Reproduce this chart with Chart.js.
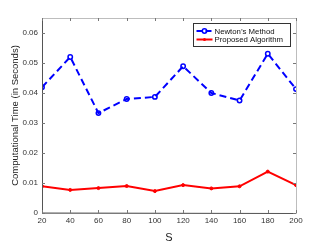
<!DOCTYPE html>
<html>
<head>
<meta charset="utf-8">
<script src="https://cdn.jsdelivr.net/npm/chart.js@4"></script>
<style>
    html, body { margin: 0; padding: 0; background: #fff; }
    #wrap { width: 327px; height: 245px; }
</style>
</head>
<body>
<div id="wrap"><canvas id="timeChart" width="327" height="245"></canvas></div>
<script>
const sizes = [20, 40, 60, 80, 100, 120, 140, 160, 180, 200];
const newtonTimes = [0.0419, 0.0520, 0.0333, 0.0380, 0.0387, 0.0489, 0.0400, 0.0375, 0.0531, 0.0413];
const proposedTimes = [0.0089, 0.0077, 0.0083, 0.0090, 0.0073, 0.0093, 0.0082, 0.0089, 0.0138, 0.0093];
const yTicks = [0, 0.01, 0.02, 0.03, 0.04, 0.05, 0.06];

const FONT = "'Liberation Sans', Arial, sans-serif";
const AXIS_COLOR = "#555";

// box around the plot with inward ticks on all four sides
const boxPlugin = {
    id: "box",
    afterDraw(chart) {
        const ctx = chart.ctx;
        const a = chart.chartArea;
        const xs = chart.scales.x;
        const ys = chart.scales.y;
        ctx.save();
        ctx.strokeStyle = "#bdbdbd";
        ctx.lineWidth = 1;
        ctx.strokeRect(Math.round(a.left) + 0.5, Math.round(a.top) + 0.5,
            Math.round(a.right - a.left), Math.round(a.bottom - a.top));
        ctx.strokeStyle = AXIS_COLOR;
        ctx.beginPath();
        ctx.moveTo(Math.round(a.left) + 0.5, a.top);
        ctx.lineTo(Math.round(a.left) + 0.5, a.bottom);
        ctx.lineTo(a.right, Math.round(a.bottom) + 0.5);
        ctx.stroke();
        ctx.strokeStyle = "#777";
        ctx.beginPath();
        sizes.forEach((s) => {
            const px = Math.round(xs.getPixelForValue(s)) + 0.5;
            ctx.moveTo(px, a.bottom); ctx.lineTo(px, a.bottom - 3);
            ctx.moveTo(px, a.top); ctx.lineTo(px, a.top + 3);
        });
        yTicks.forEach((v) => {
            const py = Math.round(ys.getPixelForValue(v)) + 0.5;
            ctx.moveTo(a.left, py); ctx.lineTo(a.left + 3, py);
            ctx.moveTo(a.right, py); ctx.lineTo(a.right - 3, py);
        });
        ctx.stroke();
        ctx.restore();
    }
};

const ctx = document.getElementById("timeChart").getContext("2d");
new Chart(ctx, {
    type: "line",
    data: {
        labels: sizes,
        datasets: [
            {
                label: "Newton\u2019s Method",
                data: sizes.map((s, i) => ({ x: s, y: newtonTimes[i] })),
                borderColor: "#0000ff",
                backgroundColor: "rgba(0,0,0,0)",
                borderWidth: 2,
                borderDash: [7, 4],
                pointRadius: 2.2,
                pointBorderWidth: 1.5,
                pointBackgroundColor: "rgba(0,0,0,0)",
                pointBorderColor: "#0000ff",
                tension: 0,
            },
            {
                label: "Proposed Algorithm",
                data: sizes.map((s, i) => ({ x: s, y: proposedTimes[i] })),
                borderColor: "#ff0000",
                backgroundColor: "#ff0000",
                borderWidth: 2,
                pointRadius: 1.5,
                pointBorderWidth: 1,
                pointBackgroundColor: "#ff0000",
                tension: 0,
            },
        ],
    },
    options: {
        responsive: false,
        animation: false,
        layout: { padding: { left: 10, right: 31, top: 18, bottom: 0 } },
        plugins: {
            legend: { display: false },
            tooltip: { enabled: false },
        },
        scales: {
            x: {
                type: "linear",
                min: 20,
                max: 200,
                afterBuildTicks: (scale) => { scale.ticks = sizes.map((v) => ({ value: v })); },
                afterFit: (scale) => { scale.height = 32; },
                grid: { display: false, drawTicks: false },
                border: { display: false },
                ticks: { color: "#333", font: { family: FONT, size: 8 }, padding: 3, maxRotation: 0 },
                title: { display: true, text: "S", color: "#222", font: { family: FONT, size: 11 }, padding: { top: 4, bottom: 0 } },
            },
            y: {
                min: 0,
                max: 0.065,
                afterBuildTicks: (scale) => { scale.ticks = yTicks.map((v) => ({ value: v })); },
                afterFit: (scale) => { scale.width = 32; },
                grid: { display: false, drawTicks: false },
                border: { display: false },
                ticks: {
                    color: "#333",
                    font: { family: FONT, size: 8 },
                    padding: 4,
                    callback: (v) => (v === 0 ? "0" : v.toFixed(2)),
                },
                title: { display: true, text: "Computational Time (in Seconds)", color: "#222", font: { family: FONT, size: 9.5 }, padding: { top: 0, bottom: 0 } },
            },
        },
    },
    plugins: [boxPlugin, {
        id: "legendBox",
        afterDraw(chart) {
            const c = chart.ctx;
            const x0 = 193.5, y0 = 23.5, w = 97, h = 23;
            c.save();
            c.fillStyle = "#fff";
            c.fillRect(x0, y0, w, h);
            c.strokeStyle = "#333";
            c.lineWidth = 1;
            c.strokeRect(x0, y0, w, h);
            const sets = chart.data.datasets;
            const rows = [y0 + 7.5, y0 + 16];
            sets.forEach((ds, i) => {
                const ly = rows[i];
                c.strokeStyle = ds.borderColor;
                c.lineWidth = 2;
                c.setLineDash(ds.borderDash ? [6, 3] : []);
                c.beginPath();
                c.moveTo(x0 + 3, ly);
                c.lineTo(x0 + 19, ly);
                c.stroke();
                c.setLineDash([]);
                c.beginPath();
                c.arc(x0 + 11, ly, ds.pointRadius, 0, Math.PI * 2);
                if (i === 0) { c.lineWidth = 1.5; c.stroke(); } else { c.fillStyle = ds.borderColor; c.fill(); }
                c.fillStyle = "#111";
                c.font = "7.8px " + FONT;
                c.textBaseline = "middle";
                c.fillText(ds.label, x0 + 21, ly + 0.5);
            });
            c.restore();
        }
    }],
});
</script>
</body>
</html>
